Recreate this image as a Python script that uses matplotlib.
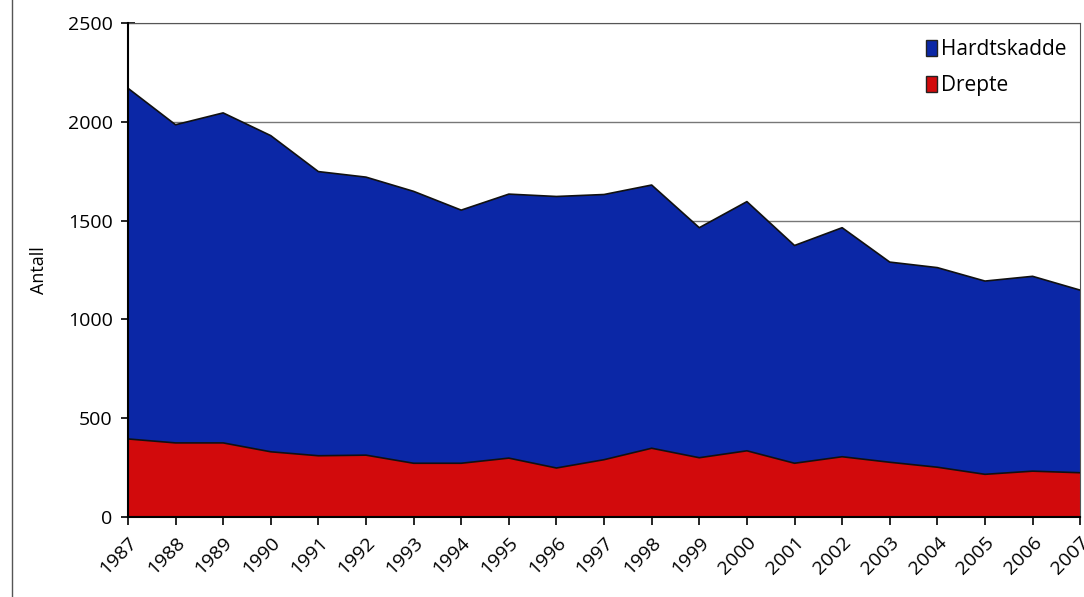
import matplotlib.pyplot as plt
from matplotlib.lines import Line2D

years = list(range(1987, 2008))
# totalt (toppen av stablet areal) og drepte
totalt = [2170, 1985, 2045, 1930, 1748, 1720, 1648, 1553, 1634, 1622, 1632, 1680,
          1464, 1596, 1374, 1464, 1290, 1262, 1194, 1218, 1148]
drepte = [395, 375, 375, 330, 310, 313, 272, 272, 298, 248, 290, 348,
          300, 335, 272, 305, 277, 252, 216, 232, 224]
hardtskadde = [t - d for t, d in zip(totalt, drepte)]

blaa = '#0b27a6'
roed = '#d20a0c'

plt.rcParams['font.family'] = ['Open Sans', 'DejaVu Sans']

fig = plt.figure(figsize=(10.84, 5.97), dpi=100)
ax = fig.add_axes([0.118, 0.134, 0.8785, 0.8275])

ax.stackplot(years, drepte, hardtskadde, colors=[roed, blaa],
             labels=['Drepte', 'Hardtskadde'], zorder=2)
ax.plot(years, drepte, color='#111111', lw=1.2, zorder=3)
ax.plot(years, totalt, color='#111111', lw=1.2, zorder=3)

ax.set_xlim(1987, 2007)
ax.set_ylim(0, 2500)
ax.set_yticks([0, 500, 1000, 1500, 2000, 2500])
ax.set_xticks(years)
ax.set_xticklabels([str(y) for y in years], rotation=45, ha='right',
                   rotation_mode='anchor', fontsize=14)
ax.tick_params(axis='y', labelsize=14, direction='inout', length=10, width=1.2, pad=6)
ax.tick_params(axis='x', direction='out', length=6, width=1.2, pad=6)
ax.yaxis.grid(True, color='#777777', lw=1.0, zorder=1)
ax.set_axisbelow(True)

for s in ['left', 'bottom']:
    ax.spines[s].set_linewidth(1.5)
    ax.spines[s].set_zorder(4)
ax.spines['top'].set_color('#555555')
ax.spines['right'].set_color('#555555')

ax.set_ylabel('Antall', fontsize=13, labelpad=14)

handles, labels = ax.get_legend_handles_labels()
ax.legend(handles[::-1], labels[::-1], loc='upper right', frameon=False,
          fontsize=15, handlelength=0.5, handleheight=0.8, handletextpad=0.2,
          labelspacing=0.7, bbox_to_anchor=(1.005, 1.005))
for h in ax.get_legend().legend_handles:
    h.set_edgecolor('#222222')

# sidekant til venstre
fig.add_artist(Line2D([0.011, 0.011], [0.0, 1.0], color='#555555', lw=1.0))

plt.savefig('out.png', dpi=100)
